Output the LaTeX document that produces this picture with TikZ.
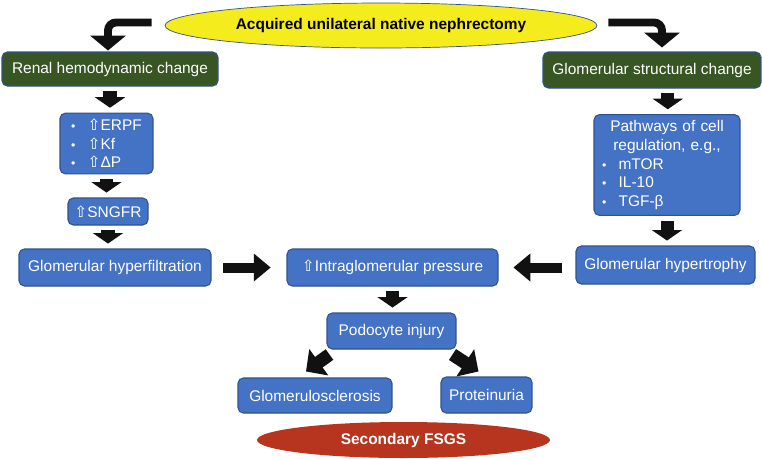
\documentclass[tikz,border=0pt]{standalone}
\usepackage{fontspec}
\setmainfont{Liberation Sans}
\newfontfamily\symfont{DejaVu Sans}
\usetikzlibrary{shapes.geometric,arrows.meta}

\definecolor{boxblue}{RGB}{68,114,196}
\definecolor{boxline}{RGB}{47,82,143}
\definecolor{boxgreen}{RGB}{55,86,35}
\definecolor{causeyellow}{RGB}{245,236,30}
\definecolor{fsgsred}{RGB}{183,53,30}
\definecolor{arrowblack}{RGB}{17,17,17}

\newcommand{\uparr}{{\symfont ⇧}}
\newcommand{\dotitem}{{\scriptsize\textbullet}\hspace{7pt}}

\tikzset{box/.style={draw=boxline,fill=boxblue,text=white,rounded corners=3pt,line width=0.6pt,font=\fontsize{8.8}{10.6}\selectfont}}
\tikzset{greenbox/.style={box,fill=boxgreen}}
\tikzset{oval/.style={ellipse,draw=boxline,line width=0.4pt,inner sep=0pt,font=\bfseries\fontsize{8.8}{10.6}\selectfont}}
\tikzset{fatdown/.style={arrowblack,line width=7.4pt,-{Triangle[width=17pt,length=6pt]},shorten <=2.8pt,shorten >=2.8pt}}
\tikzset{fatside/.style={arrowblack,line width=5.7pt,-{Triangle[width=15.3pt,length=9.6pt]}}}
\tikzset{fatbend/.style={arrowblack,line width=4.5pt,-{Triangle[width=20pt,length=8.5pt]},rounded corners=4.5pt}}
\tikzset{fatslant/.style={arrowblack,line width=7.4pt,-{Triangle[width=18pt,length=9pt]}}}

\begin{document}
\begin{tikzpicture}[x=0.02cm,y=-0.02cm]
        \useasboundingbox (0,0) rectangle (762,458);
        % cause on top
        \node[oval,fill=causeyellow,minimum width=8.64cm,minimum height=0.9cm] (top) at (381,25.5) {Acquired unilateral native nephrectomy};
        % left branch
        \node[greenbox,minimum width=4.32cm,minimum height=0.68cm] (renal) at (110,69) {Renal hemodynamic change};
        \node[box,minimum width=1.86cm,minimum height=1.18cm,align=left] (erpf) at (106.5,143.5) {\dotitem\uparr ERPF\\\dotitem\uparr Kf\\\dotitem\uparr ΔP};
        \node[box,minimum width=1.6cm,minimum height=0.54cm] (sngfr) at (108,211.5) {\uparr SNGFR};
        \node[box,minimum width=3.84cm,minimum height=0.74cm] (hyper) at (115,267.5) {Glomerular hyperfiltration};
        % right branch
        \node[greenbox,minimum width=4.36cm,minimum height=0.72cm] (struct) at (652,70) {Glomerular structural change};
        \node[box,minimum width=2.92cm,minimum height=1.96cm,text width=2.6cm,align=left] (path) at (667,165)
            {\centering Pathways of cell\\regulation, e.g.,\par\raggedright\dotitem mTOR\\\dotitem IL-10\\\dotitem TGF-β};
        \node[box,minimum width=3.58cm,minimum height=0.76cm] (troph) at (665.5,265) {Glomerular hypertrophy};
        % common path
        \node[box,minimum width=4.22cm,minimum height=0.74cm] (intra) at (392.5,267.5) {\uparr Intraglomerular pressure};
        \node[box,minimum width=2.58cm,minimum height=0.72cm] (podo) at (391.5,331) {Podocyte injury};
        \node[box,minimum width=3.08cm,minimum height=0.7cm] (glomsc) at (315,395.5) {Glomerulosclerosis};
        \node[box,minimum width=1.82cm,minimum height=0.72cm] (protein) at (486.5,395) {Proteinuria};
        \node[oval,fill=fsgsred,text=white,draw=none,minimum width=5.86cm,minimum height=0.72cm] (fsgs) at (403.5,440) {Secondary FSGS};

        % bent arrows from the cause
        \draw[fatbend] ([shift={(-13,-3)}]top.west) -| ([shift={(-2,-1)}]renal.north);
        \draw[fatbend] ([shift={(11,-3)}]top.east) -| ([shift={(10,-4)}]struct.north);
        % straight arrows down
        \draw[fatdown] (renal.south) -- (renal.south |- erpf.north);
        \draw[fatdown] (erpf.south) -- (erpf.south |- sngfr.north);
        \draw[fatdown] (sngfr.south) -- (sngfr.south |- hyper.north);
        \draw[fatdown] ([xshift=9]struct.south) -- ([xshift=9]struct.south |- path.north);
        \draw[fatdown] (path.south) -- (path.south |- troph.north);
        \draw[fatdown] (intra.south) -- (intra.south |- podo.north);
        % arrows into the pressure box
        \draw[fatside,shorten <=6.8pt,shorten >=9pt] (hyper.east) -- (intra.west);
        \draw[fatside,shorten <=7.4pt,shorten >=8.5pt] (troph.west |- intra.east) -- (intra.east);
        % arrows to the outcomes
        \draw[fatslant] ([shift={(3,5)}]podo.south west) -- ([shift={(-9,-6)}]glomsc.north);
        \draw[fatslant] ([shift={(-4,5)}]podo.south east) -- ([shift={(-8,-5)}]protein.north);
    \end{tikzpicture}
\end{document}
